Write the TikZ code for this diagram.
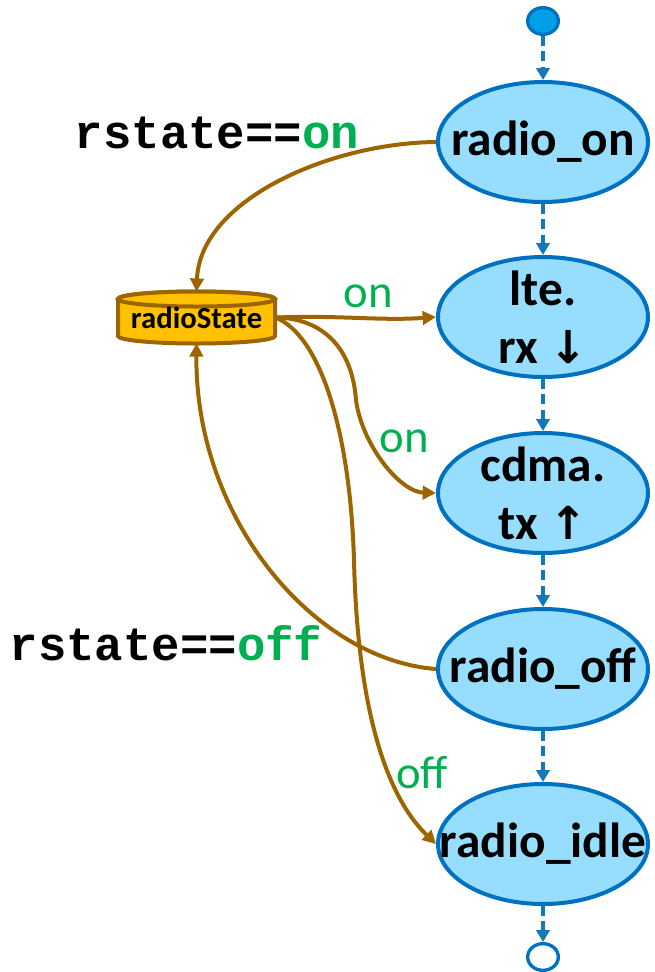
\documentclass[tikz,border=0pt]{standalone}
\usepackage{fontspec}
\setmainfont{Carlito}
\newfontfamily\monof{Liberation Mono}
\newfontfamily\arrf{DejaVu Sans}
\usetikzlibrary{arrows.meta,shapes.geometric}
\definecolor{efill}{HTML}{97DDFD}
\definecolor{eline}{HTML}{0070C0}
\definecolor{dline}{HTML}{1479B8}
\definecolor{brn}{HTML}{9C6500}
\definecolor{gold}{HTML}{FFC000}
\definecolor{grn}{HTML}{00B050}
\definecolor{sfill}{HTML}{00A0E8}
\begin{document}
\begin{tikzpicture}[x=0.75pt,y=-0.75pt,
  st/.style={ellipse, draw=eline, fill=efill, line width=3pt, minimum width=157.5pt, minimum height=90pt, inner sep=0pt},
  lbl/.style={font=\fontsize{37}{43.5}\selectfont\bfseries, align=center, inner sep=0pt},
  term/.style={ellipse, draw=eline, line width=2.5pt, minimum width=23pt, minimum height=20pt, inner sep=0pt},
  flow/.style={draw=dline, line width=3pt, dash pattern=on 7.5pt off 4pt, -{Triangle[length=9pt,width=10pt]}},
  dep/.style={draw=brn, line width=3pt, -{Triangle[length=10pt,width=10pt]}},
  cyl/.style={draw=brn, fill=gold, line width=3pt},
  guard/.style={font=\fontsize{35}{40}\selectfont, text=grn, inner sep=0pt},
  cond/.style={font=\monof\bfseries\fontsize{35.5}{40}\selectfont, inner sep=0pt}
]
\useasboundingbox (0,0) rectangle (654,972);

% terminals and states
\node[term, fill=sfill] (start) at (543,21) {};
\node[st, label={[lbl]center:radio\_on}] (on) at (543,142) {};
\node[st, label={[lbl]center:lte.\\rx {\arrf\fontsize{34}{40}\selectfont ↓}}] (lte) at (543,317) {};
\node[st, label={[lbl]center:cdma.\\tx {\arrf\fontsize{34}{40}\selectfont ↑}}] (cdma) at (543,493) {};
\node[st, label={[lbl]center:radio\_off}] (off) at (543,669) {};
\node[st, label={[lbl]center:radio\_idle}] (idle) at (543,844) {};
\node[term, fill=white] (end) at (543,957) {};

% control flow
\draw[flow] (start) -- (on);
\draw[flow] (on) -- (lte);
\draw[flow] (lte) -- (cdma);
\draw[flow] (cdma) -- (off);
\draw[flow] (off) -- (idle);
\draw[flow] (idle) -- (end);

% cylinder
\filldraw[cyl] (118,299) -- (118,336) arc[start angle=180,end angle=0,x radius=78.5,y radius=7.5]
  -- (275,299) arc[start angle=0,end angle=-180,x radius=78.5,y radius=7.5] -- cycle;
\draw[cyl] (196.5,299) ellipse[x radius=78.5,y radius=7.5];
\node[minimum width=118pt, minimum height=38.25pt, inner sep=0pt, font=\fontsize{23}{26}\selectfont\bfseries] (rs) at (196.5,317.5) {\raisebox{-2pt}{radioState}};

% data dependencies
\draw[dep] (on.west) .. controls (330,143) and (200,200) .. (rs.north);
\draw[dep] (off.west) .. controls (315,660) and (195,520) .. (rs.south);
\draw[dep] (rs.east) .. controls (340,315) and (380,321) .. (lte.west);
\draw[dep] (rs.east) .. controls (320,318) and (352,345) .. (356,400)
  .. controls (362,445) and (400,492) .. (cdma.west);
\draw[dep] (rs.east) .. controls (320,335) and (350,430) .. (354,560)
  .. controls (357,690) and (380,790) .. (idle.west);

% labels
\node[guard] (g1) at (368,296) {on};
\node[guard] (g2) at (404,441) {on};
\node[guard] (g3) at (422,773) {off};
\node[cond] (c1) at (217,133) {rstate==\textcolor{grn}{on}};
\node[cond] (c2) at (166,643) {rstate==\textcolor{grn}{off}};
\end{tikzpicture}
\end{document}
